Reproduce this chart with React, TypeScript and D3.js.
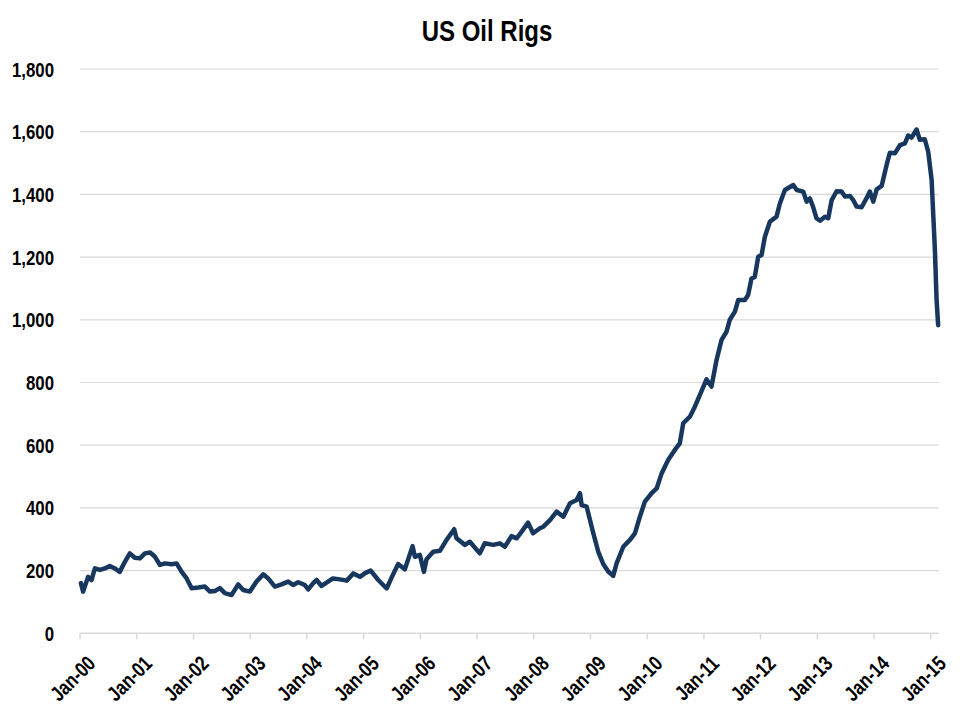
import React from "react";
import * as d3 from "d3";

const title = "US Oil Rigs";

const dates: string[] = [
  "2000-01-07","2000-01-21","2000-02-22","2000-03-15","2000-04-06","2000-05-08","2000-06-09","2000-07-11","2000-08-12","2000-09-13","2000-10-16","2000-11-17","2000-12-19",
  "2001-01-21","2001-02-22","2001-03-27","2001-04-28","2001-05-30","2001-07-01","2001-08-13","2001-09-14","2001-10-17","2001-11-18","2001-12-20",
  "2002-02-01","2002-03-15","2002-04-17","2002-05-19","2002-06-20","2002-07-22","2002-09-03","2002-10-16","2002-11-17","2002-12-30",
  "2003-02-11","2003-03-26","2003-04-27","2003-06-09","2003-07-22","2003-09-03","2003-10-05","2003-11-06","2003-12-19",
  "2004-01-10","2004-02-11","2004-03-04","2004-04-05","2004-06-17","2004-08-01","2004-09-14","2004-10-26","2004-12-08",
  "2005-01-10","2005-02-15","2005-04-05","2005-05-29","2005-07-02","2005-08-11","2005-09-23","2005-11-12","2005-11-27","2005-12-29",
  "2006-01-24","2006-02-10","2006-03-25","2006-05-07","2006-06-19","2006-08-07","2006-08-22","2006-10-15","2006-11-16",
  "2007-01-19","2007-02-20","2007-04-15","2007-05-28","2007-06-29","2007-08-11","2007-09-13","2007-10-17","2007-11-26","2007-12-28",
  "2008-02-10","2008-03-03","2008-04-15","2008-05-28","2008-07-10","2008-08-22","2008-10-04","2008-10-25","2008-11-05","2008-12-07",
  "2009-01-19","2009-02-20","2009-03-24","2009-04-25","2009-05-27","2009-06-18","2009-07-31","2009-09-12","2009-10-14","2009-11-15","2009-12-17",
  "2010-01-30","2010-03-03","2010-04-04","2010-05-16","2010-06-28","2010-07-30","2010-08-21","2010-10-03","2010-11-04","2010-12-06",
  "2011-01-18","2011-02-19","2011-03-23","2011-04-25","2011-05-27","2011-06-17","2011-07-20","2011-08-10","2011-09-22","2011-10-13","2011-11-04","2011-11-25","2011-12-17",
  "2012-01-08","2012-01-29","2012-03-01","2012-04-13","2012-05-05","2012-06-06","2012-07-30","2012-08-21","2012-10-02","2012-10-24","2012-11-14","2012-12-04","2012-12-26",
  "2013-01-18","2013-02-19","2013-03-12","2013-04-03","2013-05-05","2013-06-06","2013-06-28","2013-07-30","2013-08-20","2013-09-11","2013-10-13","2013-11-14","2013-12-05","2013-12-27",
  "2014-01-18","2014-02-19","2014-03-23","2014-04-13","2014-05-15","2014-06-17","2014-07-19","2014-08-09","2014-08-31","2014-10-02","2014-10-23","2014-11-24","2014-12-16",
  "2015-01-07","2015-01-28","2015-02-08","2015-02-18",
];

const rigs: number[] = [
  160,133,180,170,207,202,207,215,207,196,228,255,241,
  239,255,258,244,218,223,220,223,196,175,144,
  146,149,133,135,144,128,122,156,138,133,
  165,188,175,149,156,165,154,163,154,
  140,160,170,151,175,172,168,191,180,
  192,200,170,143,180,221,204,278,244,250,
  196,236,260,263,298,332,303,282,292,
  255,287,282,287,276,310,303,325,353,319,
  335,340,361,388,372,415,425,447,409,404,
  319,260,221,197,183,223,276,298,319,372,420,
  447,462,510,553,585,606,670,691,723,760,
  810,787,870,936,962,1000,1026,1063,1063,1079,1132,1137,1201,
  1207,1265,1313,1329,1372,1414,1430,1414,1409,1377,1387,1361,1324,
  1316,1329,1324,1382,1410,1409,1393,1395,1382,1361,1359,1388,1409,1377,
  1416,1427,1494,1533,1531,1557,1563,1588,1581,1607,1574,1576,1536,
  1446,1223,1063,983,
];

const yTicks: number[] = [0, 200, 400, 600, 800, 1000, 1200, 1400, 1600, 1800];
const xTickYears: number[] = [2000, 2001, 2002, 2003, 2004, 2005, 2006, 2007, 2008, 2009, 2010, 2011, 2012, 2013, 2014, 2015];

const FONT = "'Liberation Sans', Arial, sans-serif";
const NARROW = 0.8;
const LINE_COLOR = "#17375E";
const GRID_COLOR = "#D9D9D9";

export default function App() {
  const W = 960, H = 720;
  const left = 80, right = 938.7, top = 69, bottom = 633.3;
  const parse = d3.timeParse("%Y-%m-%d");
  const points = dates.map((d, i) => ({ date: parse(d) as Date, value: rigs[i] }));

  const x = d3.scaleTime()
    .domain([new Date(2000, 0, 1), new Date(2015, 0, 1)])
    .range([left, 930.7]);
  const y = d3.scaleLinear().domain([0, 1800]).range([bottom, top]);

  const line = d3.line<{ date: Date; value: number }>()
    .x((p) => x(p.date))
    .y((p) => y(p.value))
    .curve(d3.curveLinear);

  const fmt = d3.format(",");
  const tickFmt = d3.timeFormat("%b-%y");

  return (
    <svg width={W} height={H} style={{ position: "absolute", left: 0, top: 0, background: "#fff" }}>
      <text
        transform={`translate(487,41) scale(${NARROW},1)`}
        textAnchor="middle" fontFamily={FONT} fontWeight="bold" fontSize={30} fill="#000">
        {title}
      </text>
      {yTicks.map((t) => (
        <g key={t}>
          {t > 0 && <line x1={left} x2={right} y1={y(t)} y2={y(t)} stroke={GRID_COLOR} strokeWidth={1.2} />}
          <text
            transform={`translate(54,${y(t)}) scale(${NARROW},1)`}
            dy="0.36em" textAnchor="end" fontFamily={FONT} fontWeight="bold" fontSize={21} fill="#000">
            {fmt(t)}
          </text>
        </g>
      ))}
      <line x1={left} x2={right} y1={bottom} y2={bottom} stroke={GRID_COLOR} strokeWidth={1.5} />
      {xTickYears.map((yr) => {
        const d = new Date(yr, 0, 1);
        const xp = x(d);
        return (
          <g key={yr}>
            <line x1={xp} x2={xp} y1={bottom} y2={bottom + 6} stroke={GRID_COLOR} strokeWidth={1.5} />
            <text
              transform={`translate(${xp + 6},${bottom + 21}) rotate(-45) scale(${NARROW},1)`}
              textAnchor="end"
              dominantBaseline="hanging"
              fontFamily={FONT}
              fontWeight="bold"
              fontSize={21}
              fill="#000"
            >
              {tickFmt(d)}
            </text>
          </g>
        );
      })}
      <path d={line(points) || ""} fill="none" stroke={LINE_COLOR} strokeWidth={4.5} strokeLinejoin="round" strokeLinecap="round" />
    </svg>
  );
}
